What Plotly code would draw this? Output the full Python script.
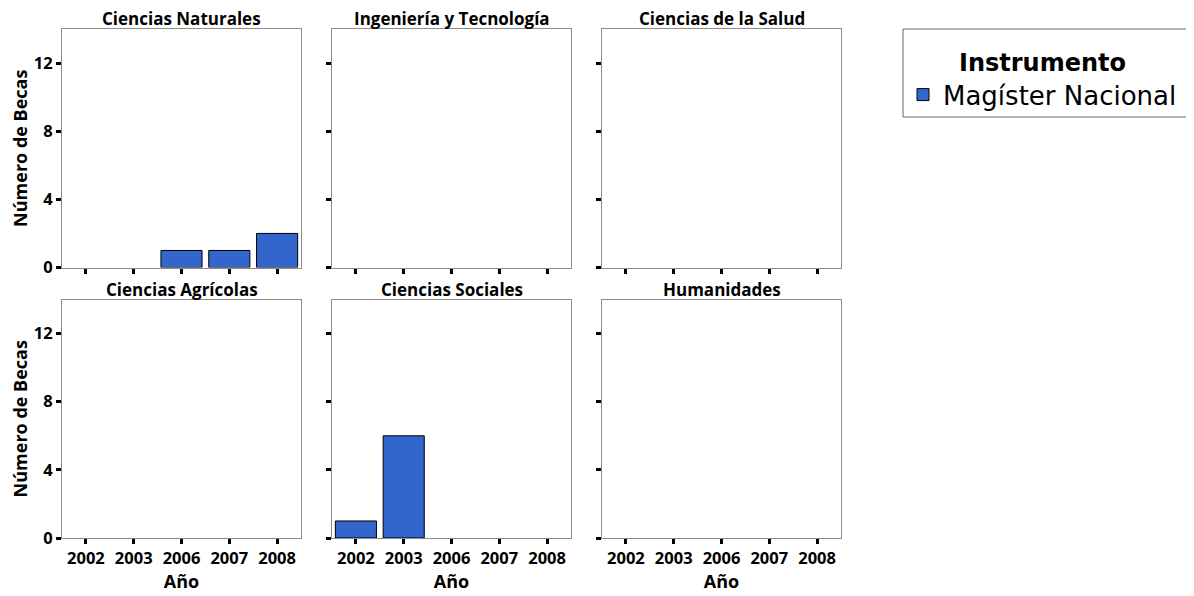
import plotly.graph_objects as go
from plotly.subplots import make_subplots

years = ["2002", "2003", "2006", "2007", "2008"]
fields = ["Ciencias Naturales", "Ingeniería y Tecnología", "Ciencias de la Salud",
          "Ciencias Agrícolas", "Ciencias Sociales", "Humanidades"]
values = {
    "Ciencias Naturales": [0, 0, 1, 1, 2],
    "Ingeniería y Tecnología": [0, 0, 0, 0, 0],
    "Ciencias de la Salud": [0, 0, 0, 0, 0],
    "Ciencias Agrícolas": [0, 0, 0, 0, 0],
    "Ciencias Sociales": [1, 6, 0, 0, 0],
    "Humanidades": [0, 0, 0, 0, 0],
}
series_name = "Magíster Nacional"
legend_title = "Instrumento"
y_ticks = [0, 4, 8, 12]

OFF = 8  # page body margin
W, H = 1194 - OFF, 596 - OFF
ml, mt = 62 - OFF, 29 - OFF
mr = W - (841 - OFF)
mb = H - (538 - OFF)
pw = W - ml - mr
ph = H - mt - mb


def px_x(p):
    return (p - OFF - ml) / pw


def px_y(p):
    return 1 - (p - OFF - mt) / ph


FONT = "Open Sans"
fig = make_subplots(rows=2, cols=3,
                    subplot_titles=fields,
                    horizontal_spacing=31 / pw,
                    vertical_spacing=32 / ph)

for i, f in enumerate(fields):
    r, c = i // 3 + 1, i % 3 + 1
    vals = [v if v != 0 else None for v in values[f]]
    fig.add_trace(go.Bar(x=years, y=vals, name=series_name,
                         marker=dict(color="#3366CC", line=dict(color="black", width=1)),
                         showlegend=(i == 0), legendgroup="m"),
                  row=r, col=c)
    fig.update_xaxes(type="category", categoryorder="array", categoryarray=years,
                     range=[-0.5, 4.5], showgrid=False, showline=True, mirror=True,
                     linecolor="#8c8c8c", linewidth=1,
                     ticks="outside", ticklen=5, tickwidth=3, tickcolor="black",
                     showticklabels=(r == 2),
                     tickfont=dict(family=FONT, size=16.5, color="black", weight="bold"),
                     title=dict(text="Año" if r == 2 else "",
                                font=dict(family=FONT, size=18, color="black", weight="bold"),
                                standoff=7),
                     row=r, col=c)
    fig.update_yaxes(range=[0, 14], tickvals=y_ticks, showgrid=False, zeroline=False,
                     showline=True, mirror=True, linecolor="#8c8c8c", linewidth=1,
                     ticks="outside", ticklen=5, tickwidth=3, tickcolor="black",
                     showticklabels=(c == 1),
                     tickfont=dict(family=FONT, size=16.5, color="black", weight="bold"),
                     title=dict(text="Número de Becas" if c == 1 else "",
                                font=dict(family=FONT, size=18, color="black", weight="bold"),
                                standoff=4),
                     row=r, col=c)

for a in fig.layout.annotations:
    a.font = dict(family=FONT, size=17, color="black", weight="bold")
    a.yshift = -3

# legend frame
fig.add_shape(type="rect", xref="paper", yref="paper",
              x0=px_x(903), x1=px_x(1189), y0=px_y(117), y1=px_y(29),
              line=dict(color="#666666", width=1), fillcolor="rgba(0,0,0,0)")

fig.update_layout(
    width=W, height=H,
    margin=dict(l=ml, r=mr, t=mt, b=mb, autoexpand=False),
    paper_bgcolor="white", plot_bgcolor="white",
    bargap=0.14,
    legend=dict(x=px_x(903), y=px_y(40), xanchor="left", yanchor="top",
                borderwidth=0, bgcolor="rgba(0,0,0,0)",
                font=dict(family="DejaVu Sans", size=26, color="black"),
                title=dict(text=legend_title, side="top center",
                           font=dict(family="DejaVu Sans", size=24, color="black", weight="bold"))),
)

fig.write_html("out.html")
